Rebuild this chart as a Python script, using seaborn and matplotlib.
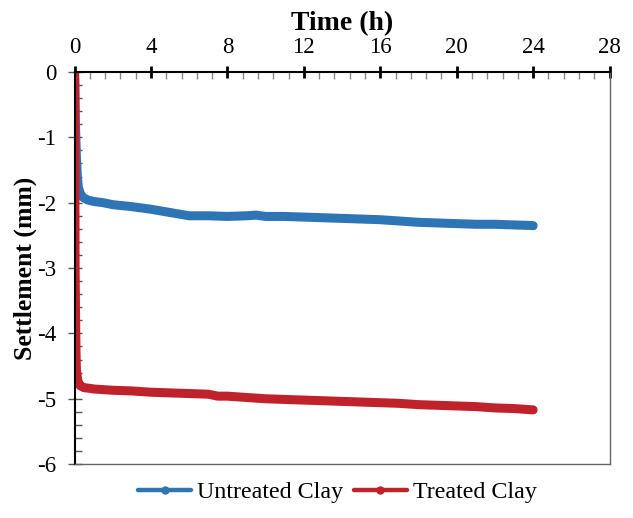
import matplotlib
matplotlib.use("Agg")
import matplotlib.pyplot as plt
from matplotlib.lines import Line2D
from matplotlib.ticker import MultipleLocator
import seaborn as sns
import pandas as pd

# Data
time_untreated = [0, 0.02, 0.05, 0.1, 0.15, 0.2, 0.3, 0.45, 0.7, 1.0, 1.5, 2, 3, 4,
                  5, 6, 7, 8, 9, 9.5, 10, 11, 12, 13, 14, 15, 16, 17, 18, 19, 20,
                  21, 22, 23, 24]
settle_untreated = [0, -0.2, -0.8, -1.3, -1.6, -1.76, -1.86, -1.92, -1.96, -1.98,
                    -2.0, -2.03, -2.06, -2.1, -2.15, -2.2, -2.2, -2.21, -2.2, -2.19,
                    -2.21, -2.21, -2.22, -2.23, -2.24, -2.25, -2.26, -2.28, -2.3,
                    -2.31, -2.32, -2.33, -2.33, -2.34, -2.35]

time_treated = [0, 0.01, 0.02, 0.03, 0.05, 0.08, 0.1, 0.15, 0.2, 0.3, 0.5, 0.8, 1.0,
                1.5, 2, 3, 4, 5, 6, 7, 7.5, 8, 9, 10, 11, 12, 13, 14, 15, 16, 17,
                18, 19, 20, 21, 22, 23, 24]
settle_treated = [0, -0.1, -1.5, -2.9, -3.6, -4.3, -4.55, -4.68, -4.75, -4.8, -4.83,
                  -4.84, -4.85, -4.86, -4.87, -4.88, -4.9, -4.91, -4.92, -4.93, -4.96,
                  -4.96, -4.98, -5.0, -5.01, -5.02, -5.03, -5.04, -5.05, -5.06, -5.07,
                  -5.09, -5.1, -5.11, -5.12, -5.14, -5.15, -5.17]

labels = ["Untreated Clay", "Treated Clay"]
colors = ["#2E75B6", "#C0222B"]

plt.rcParams["axes.unicode_minus"] = False
plt.rcParams["font.family"] = ["Liberation Serif", "DejaVu Serif"]

fig = plt.figure(figsize=(6.33, 5.18), dpi=100)
ax = fig.add_axes([0.1177, 0.104, 0.963 - 0.1177, 0.861 - 0.104])

df_u = pd.DataFrame({"t": time_untreated, "s": settle_untreated})
df_t = pd.DataFrame({"t": time_treated, "s": settle_treated})

sns.lineplot(data=df_u, x="t", y="s", ax=ax, color=colors[0], lw=6.5, marker="o",
             markersize=5, markeredgewidth=0, sort=False, estimator=None,
             solid_capstyle="round", solid_joinstyle="round")
sns.lineplot(data=df_t, x="t", y="s", ax=ax, color=colors[1], lw=6.5, marker="o",
             markersize=5, markeredgewidth=0, sort=False, estimator=None,
             solid_capstyle="round", solid_joinstyle="round")

ax.set_xlim(0, 28)
ax.set_ylim(-6, 0)
ax.xaxis.tick_top()
ax.xaxis.set_label_position("top")
ax.set_xticks(range(0, 29, 4))
ax.set_yticks(range(-6, 1))
ax.xaxis.set_minor_locator(MultipleLocator(0.8))
ax.yaxis.set_minor_locator(MultipleLocator(0.2))

ax.set_xlabel("Time (h)", fontsize=20, fontweight="bold", labelpad=5)
ax.set_ylabel("Settlement (mm)", fontsize=18.5, fontweight="bold", labelpad=0)

ax.tick_params(axis="x", which="major", direction="inout", length=9, width=2,
               labelsize=16.5, pad=5.5, top=True, bottom=False, color="black")
ax.tick_params(axis="x", which="minor", direction="in", length=5, width=1,
               top=True, bottom=False, color="#888888")
ax.tick_params(axis="y", which="major", direction="inout", length=10, width=1,
               labelsize=16.5, pad=8, color="#555555")
ax.tick_params(axis="y", which="minor", direction="in", length=5, width=1,
               color="#555555")

for side in ["left", "top"]:
    ax.spines[side].set_color("black")
    ax.spines[side].set_linewidth(1.5)
for side in ["right", "bottom"]:
    ax.spines[side].set_color("#666666")
    ax.spines[side].set_linewidth(1.0)

ax.set_facecolor("white")
ax.grid(False)

handles = [Line2D([], [], color=c, lw=3.2, marker="o", markersize=5,
                  solid_capstyle="round") for c in colors]
fig.legend(handles, labels, loc="center", bbox_to_anchor=(0.533, 0.05), ncol=2,
           frameon=False, fontsize=17.3, handlelength=2.2, handletextpad=0.25,
           columnspacing=0.45)
if ax.get_legend() is not None:
    ax.get_legend().remove()

fig.savefig("out.png", dpi=100, facecolor="white")
